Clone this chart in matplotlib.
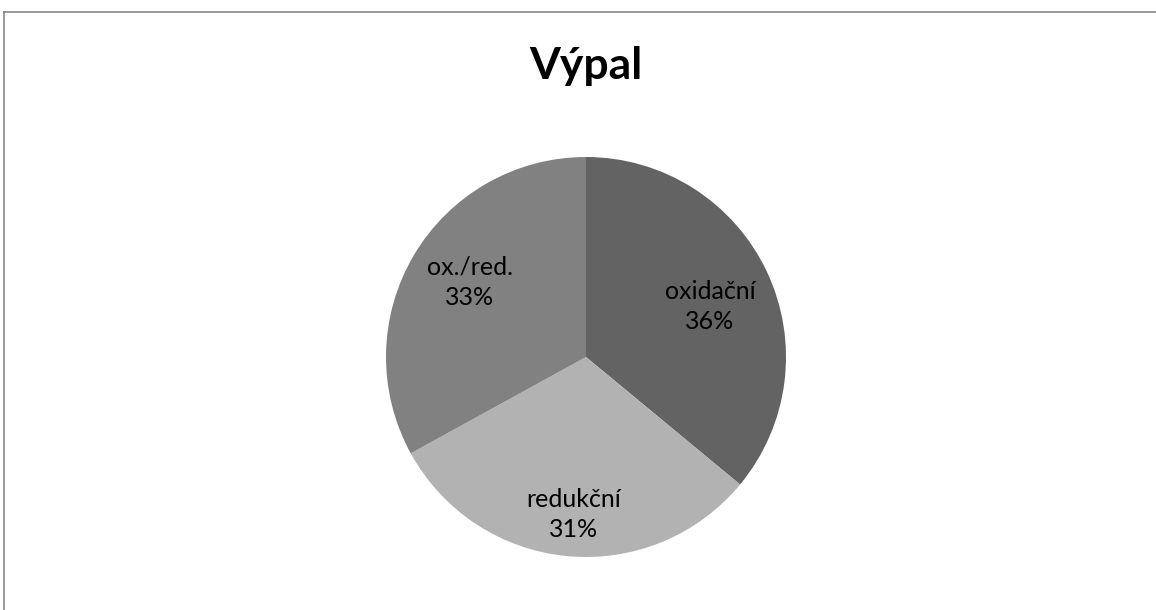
import numpy as np
import matplotlib.pyplot as plt
from matplotlib.lines import Line2D

# firing atmosphere shares
categories = ["oxidační", "redukční", "ox./red."]
shares = [36, 31, 33]
colors = ["#636363", "#b2b2b2", "#818181"]
label_dist = [0.67, 0.79, 0.69]
label_turn = [-3, 1, -2]  # degrees, nudges labels off the exact mid-angle

W, H = 1156, 610
fig = plt.figure(figsize=(W / 100, H / 100), dpi=100)
fig.patch.set_facecolor("white")

# chart frame (top and left edges visible)
fig.add_artist(Line2D([4 / W, 4 / W], [0, 1 - 12 / H], transform=fig.transFigure,
                      color="#868686", lw=1.2))
fig.add_artist(Line2D([4 / W, 1], [1 - 12 / H, 1 - 12 / H], transform=fig.transFigure,
                      color="#868686", lw=1.2))

fig.text(586 / W, 1 - 79 / H, "Výpal", ha="center", va="baseline",
         fontsize=32, fontweight="bold", family="Lato")

cx, cy, r = 586, 357, 200
ax = fig.add_axes([(cx - r) / W, (H - cy - r) / H, 2 * r / W, 2 * r / H])
wedges, _ = ax.pie(shares, colors=colors, startangle=90, counterclock=False,
                   radius=1, wedgeprops=dict(linewidth=0))
ax.set_xlim(-1, 1)
ax.set_ylim(-1, 1)
ax.set_aspect("equal")
ax.axis("off")

total = sum(shares)
for w, name, val, d, t in zip(wedges, categories, shares, label_dist, label_turn):
    mid = np.deg2rad((w.theta1 + w.theta2) / 2 + t)
    ax.text(d * np.cos(mid), d * np.sin(mid), f"{name}\n{round(100 * val / total)}%",
            ha="center", va="center", fontsize=18, family="Lato",
            linespacing=1.4, color="black")

fig.savefig("out.png", dpi=100, facecolor="white")
